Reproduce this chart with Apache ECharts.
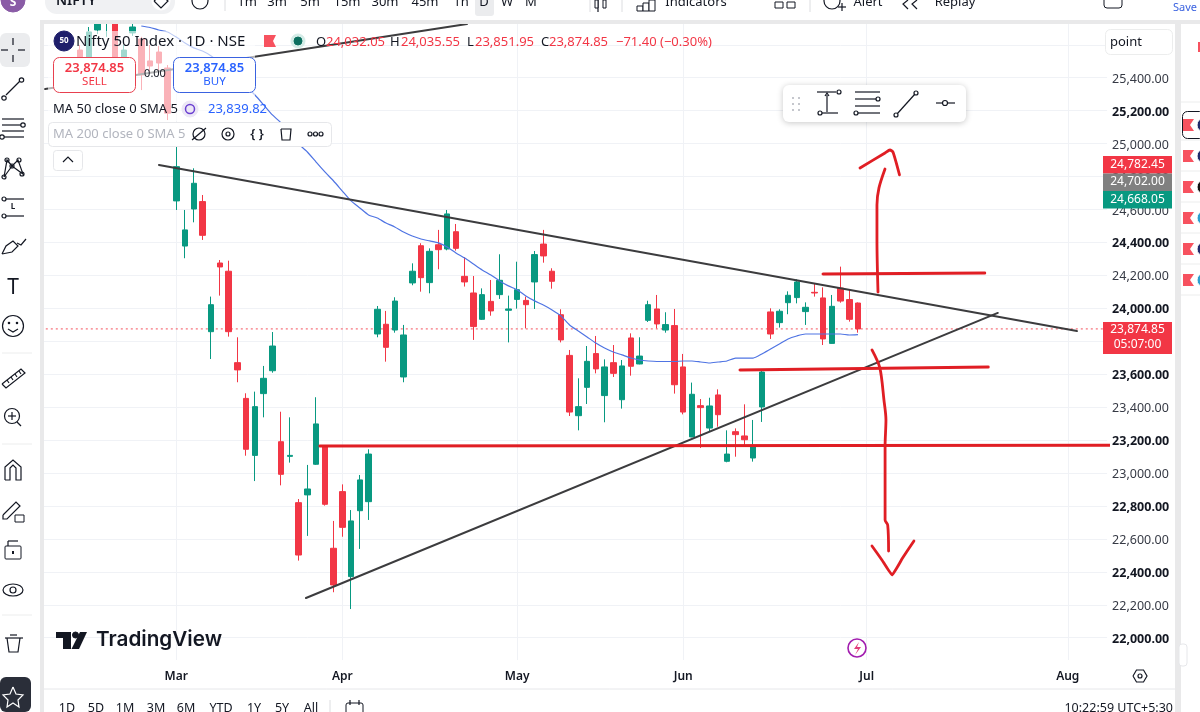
<!DOCTYPE html>
<html><head><meta charset="utf-8">
<style>html,body{margin:0;padding:0;background:#fff}#c{width:1200px;height:712px}</style>
<script src="https://cdn.jsdelivr.net/npm/echarts@6/dist/echarts.min.js"></script>
</head><body><div id="c"></div>
<script>
const monthNames=['Feb','Mar','Apr','May','Jun','Jul','Aug'];
const barsPerMonth=[15,19,20,19,21,23,5];
const hidden=[null,null,null,null];
const opens=[...hidden,
25568,25526,25690,25745,25750,25526,25672,25635,25502,25556,25459,
24652,24378,24603,24648,23858,24275,24225,23670,23453,23107,23482,23621,23190,23101,22820,
22867,23053,23160,22543,22887,22371,22771,22826,23844,23903,23868,23583,24154,24380,24156,
24386,24360,24465,24194,24093,23933,24042,24083,23988,24054,24048,24160,24390,24225,23961,
23714,23348,23520,23725,23470,23670,23445,23820,23662,23927,23996,23868,23895,23644,23219,
23409,23273,23474,23071,23251,23225,23091,23401,23978,23913,24034,24065,23980,24097,24063,
23787,24123,24053,24032.05];
const closes=[...hidden,
25526,25678,25760,25790,25520,25568,25708,25417,25471,25489,25185,
24860,24476,24759,24443,24022,24251,23858,23626,23144,23403,23575,23771,22992,23107,22502,
22903,23298,22810,22320,22670,22709,22958,23115,23994,23763,24044,23838,24225,24186,24346,
24356,24573,24364,24160,23889,24083,23984,24170,23996,24113,24022,24326,24318,24164,23808,
23370,23403,23678,23632,23644,23605,23650,23648,23710,24022,23905,23901,23536,23370,23478,
23397,23407,23354,23115,23233,23202,23166,23613,23844,23982,24079,24160,24006,24093,23814,
24012,24044,23933,23874.85];
const lows=[...hidden,
25508,25495,25665,25648,25508,25495,25654,25325,25435,25422,25143,
24597,24304,24522,24415,23692,24077,23828,23551,23105,22951,23338,23609,22925,23063,22468,
22618,23049,22802,22276,22613,22174,22539,22715,23824,23676,23852,23551,24140,24101,24091,
24237,24352,24350,24132,23808,23929,23955,24057,23793,23998,23878,23996,24277,24119,23793,
23346,23259,23419,23605,23308,23583,23391,23591,23660,23917,23878,23852,23482,23356,23217,
23152,23255,23281,23065,23099,23170,23069,23310,23814,23883,23964,24030,23899,24071,23777,
23785,24034,23919,23851.95];
const highs=[...hidden,
25599,25708,25790,25800,25780,25599,25730,25648,25599,25593,25477,
25000,24597,24850,24688,24071,24293,24289,23824,23484,23494,23650,23856,23372,23338,22842,
23049,23460,23170,22709,22931,22775,22988,23144,24014,23984,24067,23899,24273,24395,24364,
24476,24597,24512,24310,24196,24121,24172,24328,24077,24283,24071,24348,24476,24243,23994,
23747,23575,23771,23832,23690,23777,23686,23848,23824,24046,24081,23976,23996,23723,23549,
23449,23457,23508,23259,23271,23417,23322,23621,24000,23994,24103,24176,24036,24152,24127,
24081,24253,24111,24035.55];
const ma50=[null,null,null,null,null,null,null,null,null,null,null,25714,25705,25690,25678,
25647,25611,25581,25562,25532,25490,25441,25393,25350,25295,25235,25174,25125,25058,24997,
24949,24888,24828,24773,24712,24652,24609,24567,24548,24518,24494,24463,24439,24421,24409,
24397,24372,24336,24305,24269,24233,24202,24166,24136,24112,24075,24045,24020,23990,23954,
23899,23862,23826,23789,23759,23735,23717,23698,23686,23680,23677,23677,23677,23680,23680,
23674,23668,23674,23680,23698,23698,23698,23723,23753,23783,23814,23832,23844,23844,23844,
23844,23844,23838,23839.82];
const lastPrice=23874.85;
const lastPriceLine=[[-0.5,lastPrice],[121.5,lastPrice]];
const upperTrend=[[13.02,24870],[118.05,23862]];
const lowerTrend=[[29.84,22241],[109,23972]];
const oldTrend=[[0,25331],[48.26,25726]];
const supportLine=[[31.44,23164],[124.46,23168]];
const breakoutLine=[[89,24208],[107.5,24214]];
const breakdownLine=[[79.5,23625],[107.9,23644]];
const upStroke=[[95.29,24099],[95.17,24415],[95.17,24627],[95.4,24731],[96.09,24846]];
const upHead=[[93.23,24852],[96.09,24943],[96.66,24961],[97,24949],[97.75,24810]];
const downStroke=[[94.6,23747],[95.5,23638],[95.97,23443],[96.2,23322],[96.1,23164],[96.1,22897],[96.1,22715],[96.4,22684],[96.5,22526]];
const downHead=[[94.6,22557],[95.74,22472],[96.9,22381],[98.1,22484],[99.4,22587]];

const categories=[];
monthNames.forEach((m,i)=>{for(let d=1;d<=barsPerMonth[i];d++)categories.push(m+' '+d)});
const candles=opens.map((o,i)=>o===null?[NaN,NaN,NaN,NaN]:[o,closes[i],lows[i],highs[i]]);
const monthStart=(i,v)=>/ 1$/.test(v)&&!/^Feb/.test(v);

const GREEN='#089981',RED='#f23645',INK='#131722',FONT='"Noto Sans"',DRAW='#e01e24',DARK='#3c3c3e';
const T=(x,y,text,fill,size,o={})=>({type:'text',z:125,silent:true,style:{x,y,text,fill:fill||INK,
  font:(o.w||400)+' '+size+'px '+(o.f||FONT),textAlign:o.a||'left',textVerticalAlign:'middle'}});
const Rc=(x,y,w,h,fill,o={})=>({type:'rect',z:o.z||110,silent:true,shape:{x,y,width:w,height:h,r:o.r||0},
  style:{fill,stroke:o.s||null,lineWidth:o.lw||1,shadowBlur:o.sb||0,shadowColor:o.sc||'transparent',shadowOffsetY:o.sy||0,opacity:o.op==null?1:o.op}});
const Ln=(x1,y1,x2,y2,c,w)=>({type:'line',z:120,silent:true,shape:{x1,y1,x2,y2},style:{stroke:c||INK,lineWidth:w||1.2}});
const Ci=(cx,cy,r,s,f,w)=>({type:'circle',z:121,silent:true,shape:{cx,cy,r},style:{stroke:s||INK,fill:f||'#fff',lineWidth:w||1.2}});
const Pl=(pts,c,f,w)=>({type:f?'polygon':'polyline',z:122,silent:true,shape:{points:pts},style:{stroke:c||null,fill:f||null,lineWidth:w||1.2}});

const gfx=[
 Rc(0,0,1200,20,'#fff'),Rc(0,20,1200,4,'#e9e9ea'),
 Rc(0,20,40,692,'#fff'),Rc(40,20,4,692,'#e9e9ea'),
 Rc(44,660,1133,11,'#fff',{z:100}),
 Rc(1175,20,6,692,'#e9e9ea'),Rc(1181,24,19,688,'#fff'),
 Ln(44,689,1175,689,'#e6e7ea',1),
 Rc(48,31,207,90,'rgba(255,255,255,0.62)',{z:90}),
 Ci(13,0,12,'#8a5ca6','#8a5ca6',1),T(13,3,'S','#fff',12,{a:'center',w:700}),
 Rc(45,-12,130,26,'#f0f1f3',{r:12}),T(56,1,'NIFTY',INK,14,{w:600}),
 Ci(161,1,9,'#fff','#fff',1),Pl([[154,1],[161,-5],[168,1],[161,8],[154,1]],INK),
 Ci(200,1,8,INK),Ln(196,1,204,1),Ln(200,-3,200,5),Ln(225,0,225,11,'#dcdde0',1),
 Rc(475,-6,19,22,'#ebecee',{r:3}),
 ...[[247,'1m'],[277,'3m'],[310,'5m'],[347,'15m'],[385,'30m'],[425,'45m'],[461,'1h'],[484,'D'],[507,'W'],[531,'M']].map(p=>T(p[0],2,p[1],INK,13,{a:'center'})),
 Ln(590,0,590,12,'#dcdde0',1),Ln(598,0,598,12),Rc(595,0,3,8,'#fff',{s:INK,z:120}),Rc(603,0,3,8,'#fff',{s:INK,z:120}),
 Ln(622,0,622,12,'#dcdde0',1),Rc(637,6,6,5,'#fff',{s:INK,z:120}),Rc(643,3,6,8,'#fff',{s:INK,z:120}),Rc(649,0,6,11,'#fff',{s:INK,z:120}),
 T(696,2,'Indicators',INK,13,{a:'center'}),Rc(775,2,8,6,'#fff',{s:INK,z:120}),Rc(787,2,8,6,'#fff',{s:INK,z:120}),
 Ln(810,0,810,12,'#dcdde0',1),Ci(832,1,8),Ln(838,7,846,7),Ln(842,3,842,11),T(868,2,'Alert',INK,13,{a:'center'}),
 Pl([[908,0],[903,4],[908,9]],INK),Pl([[917,0],[912,4],[917,9]],INK),T(955,2,'Replay',INK,13,{a:'center'}),
 Rc(1104,-6,18,14,'#fff',{s:INK,r:3,z:120}),T(1173,8,'Save','#3a62e0',11),
 Ci(64,41,10,'#1f1f6b','#1f1f6b',1),T(64,41,'50','#fff',8,{a:'center',w:700}),
 T(76,42,'Nifty 50 Index · 1D · NSE',INK,15),
 Pl([[264,35],[276,35],[273,41],[276,47],[264,47]],null,'#f7525f'),
 Ci(298,41,7,'#d4ece7','#d4ece7',1),{...Ci(298,41,4,'#0b6f5f','#0b6f5f',1),z:123},
 T(316,42,'O',INK,13),T(326,42,'24,032.05',RED,13),T(390,42,'H',INK,13),T(401,42,'24,035.55',RED,13),
 T(467,42,'L',INK,13),T(475,42,'23,851.95',RED,13),T(541,42,'C',INK,13),T(549,42,'23,874.85',RED,13),
 T(616,42,'−71.40',RED,13),T(660,42,'(−0.30%)',RED,13),
 Rc(53.5,57.5,82,35,'#fff',{s:'#e8404f',r:6,z:115}),T(94.5,68,'23,874.85',RED,13,{a:'center',w:600}),T(94.5,82,'SELL',RED,11.5,{a:'center'}),
 Rc(173.5,57.5,82,35,'#fff',{s:'#3a62e0',r:6,z:115}),T(214.5,68,'23,874.85','#2962ff',13,{a:'center',w:600}),T(214.5,82,'BUY','#2962ff',11.5,{a:'center'}),
 T(155,74,'0.00',INK,11,{a:'center'}),
 T(53,109,'MA 50 close 0 SMA 5',INK,13),Ci(190,109,8,'#ece7f6','#ece7f6',1),{...Ci(190,109,4.5,'#6a3fd0','#ece7f6',1.5),z:123},T(208,109,'23,839.82','#2962ff',13),
 Rc(48.5,122.5,283,24,'#fff',{s:'#e6e7ea',r:4,z:115}),T(53,134,'MA 200 close 0 SMA 5','#b2b5be',13),
 Ci(199,134,6,INK),{...Ln(192,140,206,128),z:123},Ci(228,134,6,INK),{...Ci(228,134,2,INK),z:123},
 T(257,134,'{ }',INK,13,{a:'center',w:600}),Pl([[281,129],[291,129],[290,140],[282,140],[281,129]],INK),
 Ci(310,134,2),Ci(315.5,134,2),Ci(321,134,2),
 Rc(53.5,150.5,29,20,'#fff',{s:'#e6e7ea',r:3,z:115}),Pl([[63,162],[68,157],[73,162]],INK),
 Rc(783,85,183,37,'#fff',{r:6,sb:6,sc:'rgba(0,0,0,0.22)',sy:1,z:115}),
 ...[[792,97],[798,97],[792,103],[798,103],[792,109],[798,109]].map(p=>Rc(p[0],p[1],2,2,'#c5c7cd',{z:120})),
 Ln(817,92,836,92),Ln(822,113,838,113),Ln(827,112,827,95),Pl([[825,96],[827,93],[829,96]],INK),Ci(839,92,2),Ci(820,113,2),
 Ln(855,92,880,92),Ln(855,99,880,99),Ln(855,106,880,106),Ln(857,113,880,113),Ci(878,99,2),Ci(856,113,2),
 Ln(897,114,915,94),Ci(896,115,2),Ci(916,93,2),
 Ln(936,103,955,103),Ci(945,103,2.5),
 Rc(1105.5,29.5,67,25,'#fff',{s:'#eceded',r:5,z:115}),T(1110,42,'point',INK,13),
 Rc(1103,156,69,17.5,RED),T(1137.5,165,'24,782.45','#fff',12,{a:'center'}),
 Rc(1103,173.5,69,17.5,'#808080'),T(1137.5,182,'24,702.00','#fff',12,{a:'center'}),
 Rc(1103,191,69,17.5,GREEN),T(1137.5,200,'24,668.05','#fff',12,{a:'center'}),
 Rc(1103,322,69,32,RED),T(1137.5,330,'23,874.85','#fff',12,{a:'center'}),T(1137.5,345,'05:07:00','#fff',12,{a:'center'}),
 Rc(1182.5,111.5,22,27,'#fff',{s:INK,r:5,z:115}),
 ...[125,156,187,218,249,280].map((y,i)=>Ci(1204,y,7,'#fff',['#1f2a6b','#1f2a6b','#111','#2a9fd0','#1f2a6b','#2a9fd0'][i],1)),
 ...[125,156,187,218,249,280].map(y=>Pl([[1183,y-6],[1194,y-6],[1190,y],[1194,y+6],[1183,y+6]],null,'#f7525f')),
 Rc(1198,42,6,10,'#f7525f'),
 ...[102,140,171,202,233,264,295].map(y=>Ln(1181,y,1200,y,'#eceded',1)),
 Rc(1179,644,8,22,'#fff',{s:'#e6e7ea',r:3,z:115}),
 Pl([[1133,676],[1136.5,670],[1143.5,670],[1147,676],[1143.5,682],[1136.5,682],[1133,676]],INK),Ci(1140,676,2),
 ...[[67,'1D'],[96,'5D'],[125,'1M'],[156,'3M'],[186,'6M'],[221,'YTD'],[254,'1Y'],[282,'5Y'],[311,'All']].map(p=>T(p[0],708,p[1],INK,12.5,{a:'center'})),
 Ln(330,700,330,712,'#dcdde0',1),Rc(346,703,17,12,'#fff',{s:INK,r:2,z:120}),{...Ln(350,700,350,705),z:123},{...Ln(359,700,359,705),z:123},
 T(1173,708,'10:22:59 UTC+5:30',INK,12.5,{a:'right'}),
 Pl([[56,632],[71,632],[71,649],[63,649],[63,638],[56,638]],null,'#131722'),Ci(75.5,635,3,'#131722','#131722',1),
 Pl([[80,632],[87,632],[79,649],[71.5,649]],null,'#131722'),
 T(96,640,'TradingView','#131722',20.7,{w:600,f:'Inter'}),
 Ci(857,648,9,'#a21caf','#fff',1.6),Pl([[859,642],[854,649],[858,649],[855,655],[861,647],[857,647]],null,'#e23d7a'),
 Rc(0,33,30,34,'#ebecee',{r:6}),Ln(13,38,13,45),Ln(13,55,13,62),Ln(1,50,8,50),Ln(18,50,25,50),
 Ln(6,95,20,81),Ci(4,98,2.2),Ci(21.5,80,2.2),
 Ln(2,119,24,119),Ln(2,125,24,125),Ln(2,131,24,131),Ln(2,137,24,137),Ci(23,125,2.2),Ci(2,137,2.2),
 Pl([[4,177],[7,160],[12,166],[18,160],[23,174],[12,166],[4,177]],INK),Ci(4,177,2),Ci(7,160,2),Ci(12,166,2),Ci(19,160,2),Ci(22,174,2),
 Ln(4,199,24,199),Ln(4,216,24,216),Ci(4,199,2),Ci(4,216,2),T(13,207,'L',INK,8,{a:'center',w:700}),
 Pl([[2,254],[6,246],[13,241],[18,246],[12,252],[2,254]],INK),Pl([[17,243],[21,245],[26,239]],INK),
 T(13,288,'T',INK,21,{a:'center'}),
 Ci(13,326,10.5),{...Ci(9,323,0.7),z:123},{...Ci(17,323,0.7),z:123},Pl([[8,329],[13,332],[18,329]],INK),
 Pl([[2,384],[21,369],[25,373],[6,388],[2,384]],INK),Ln(7,380,9,383),Ln(11,377,13,380),Ln(15,374,17,377),Ln(19,371,21,374),
 Ci(12,416,7.5),{...Ln(12,412,12,420),z:123},{...Ln(8,416,16,416),z:123},Ln(17,422,21,426),
 Pl([[5,480],[5,467],[13,460],[21,467],[21,480],[16,480],[16,468],[13,465],[10,468],[10,480],[5,480]],INK),
 Pl([[3,515],[16,502],[20,506],[7,519],[3,519],[3,515]],INK),{...Rc(15,515,9,7,'#fff',{s:INK}),z:123},
 Rc(5,546,16,13,'#fff',{s:INK,r:1,z:119}),Ln(13,551,13,554,INK,2),Ln(8,546,8,541),Ln(8,541,18,541),
 {type:'ellipse',z:120,silent:true,shape:{cx:13,cy:590,rx:10,ry:6},style:{stroke:INK,fill:'#fff',lineWidth:1.2}},Ci(13,590,3),
 Ln(5,638,23,638),Ln(10,635,17,635),Pl([[7,638],[9,652],[18,652],[20,638]],INK),
 ...[353,444,615].map(y=>Ln(2,y,32,y,'#eceded',1)),
 Rc(0,677,31,35,'#2a2e39',{r:6}),Pl([[13,687],[16,694],[23,695],[18,700],[19,707],[13,703],[7,707],[8,700],[3,695],[10,694],[13,687]],'#fff')
];

const freehand=(name,data,color,width,smooth)=>({name,type:'line',xAxisIndex:1,data,showSymbol:false,symbol:'none',silent:true,
  clip:false,smooth:smooth||false,lineStyle:{color,width,cap:'round',join:'round'},z:6,animation:false});

const chart=echarts.init(document.getElementById('c'),null,{renderer:'canvas'});
chart.setOption({
 animation:false,backgroundColor:'#fff',
 grid:{left:40.8,top:11.84,width:1066.28,height:658.8,containLabel:false},
 xAxis:[
  {type:'category',data:categories,boundaryGap:true,axisLine:{show:false},axisTick:{show:false},
   axisLabel:{interval:monthStart,formatter:v=>v.split(' ')[0],margin:0,color:INK,fontFamily:FONT,fontSize:12,fontWeight:600,hideOverlap:false},
   splitLine:{show:true,interval:monthStart,alignWithLabel:true,lineStyle:{color:'#f0f2f6',width:1}}},
  {type:'value',show:false,min:-0.5,max:121.5,splitLine:{show:false}}
 ],
 yAxis:{type:'value',min:21800,max:25800,interval:200,position:'right',axisLine:{show:false},axisTick:{show:false},
  splitLine:{show:true,showMinLine:false,showMaxLine:false,lineStyle:{color:'#f0f2f6',width:1}},
  axisLabel:{margin:5,padding:[3,0,0,0],showMinLabel:false,showMaxLabel:false,fontFamily:FONT,fontSize:12.5,
   formatter:v=>{if(v>25400)return'';const s=v.toLocaleString('en-US',{minimumFractionDigits:2});return(v%400===0)?'{b|'+s+'}':'{n|'+s+'}'},
   rich:{b:{fontFamily:FONT,fontSize:12.5,fontWeight:700,color:INK},n:{fontFamily:FONT,fontSize:12.5,color:'#363a45'}}}},
 graphic:{elements:gfx},
 series:[
  {name:'last price',type:'line',xAxisIndex:1,data:lastPriceLine,showSymbol:false,symbol:'none',silent:true,z:2,
   lineStyle:{color:'#f4505c',type:[2,3],width:1}},
  {name:'Nifty 50',type:'candlestick',data:candles,barWidth:6,z:3,silent:true,
   itemStyle:{color:GREEN,color0:RED,borderColor:GREEN,borderColor0:RED,borderWidth:1}},
  {name:'MA 50',type:'line',data:ma50,xAxisIndex:0,showSymbol:false,symbol:'none',silent:true,smooth:0.2,connectNulls:false,lineStyle:{color:'#4f74e3',width:1.2},z:4},
  freehand('upper trend',upperTrend,DARK,2),
  freehand('lower trend',lowerTrend,DARK,2),
  freehand('old trend',oldTrend,DARK,2),
  freehand('support',supportLine,DRAW,3),
  freehand('breakout',breakoutLine,DRAW,3),
  freehand('breakdown',breakdownLine,DRAW,3),
  freehand('up stroke',upStroke,DRAW,2.8,0.3),
  freehand('up head',upHead,DRAW,2.8,0.2),
  freehand('down stroke',downStroke,DRAW,2.8,0.3),
  freehand('down head',downHead,DRAW,2.8,0.1)
 ]
});
</script></body></html>
